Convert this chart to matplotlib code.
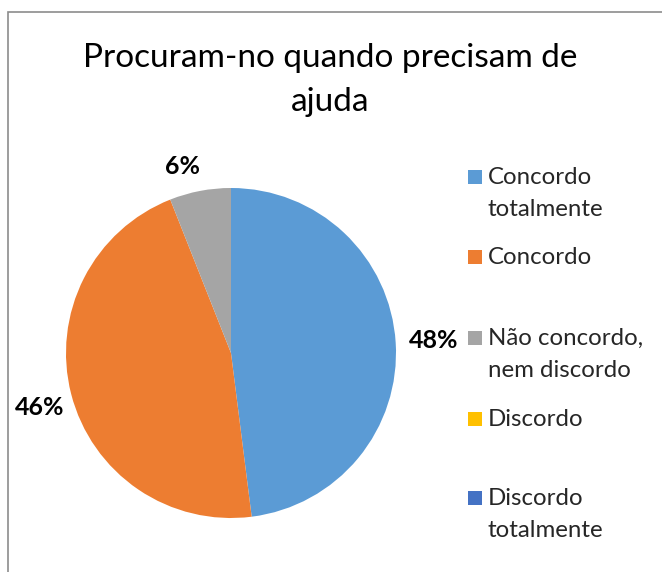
#!/usr/bin/env python3
# -*- coding:utf-8 -*-

import numpy as np
import matplotlib as mpl
mpl.use('Agg')
import matplotlib.pyplot as plt
from matplotlib.patches import Rectangle


title = 'Procuram-no quando precisam de\najuda'
categories = ['Concordo\ntotalmente', 'Concordo', 'Não concordo,\nnem discordo',
              'Discordo', 'Discordo\ntotalmente']
values = [48, 46, 6, 0, 0]
colors = ['#5B9BD5', '#ED7D31', '#A5A5A5', '#FFC000', '#4472C4']

W, H = 662, 572
plt.rcParams['font.family'] = ['Lato', 'DejaVu Sans']


def fmt_pct(p):
    return '{:.0f}%'.format(p) if p > 0.5 else ''


fig = plt.figure(figsize=(W / 100, H / 100), dpi=100)

# chart frame (only top and left edges visible in the crop)
fig.patches.append(Rectangle((8 / W, -0.1), 1.2, 1 - 12 / H + 0.1,
                             transform=fig.transFigure, fill=False,
                             edgecolor='#8c8c8c', linewidth=1.2))

cx, cy, r = 231, 353, 165
ax = fig.add_axes([(cx - r) / W, 1 - (cy + r) / H, 2 * r / W, 2 * r / H])
wedges, _, autotexts = ax.pie(values, colors=colors, startangle=90,
                              counterclock=False, autopct=fmt_pct,
                              pctdistance=1.23,
                              textprops=dict(fontsize=18, fontweight='bold',
                                             color='#000000'))
# Excel "best fit" labels: small slice closer, 46% slightly nearer too
w = wedges[2]
mid = np.deg2rad((w.theta1 + w.theta2) / 2)
autotexts[2].set_position((1.15 * np.cos(mid) - 0.08, 1.15 * np.sin(mid)))
w = wedges[1]
mid = np.deg2rad((w.theta1 + w.theta2) / 2)
autotexts[1].set_position((1.2 * np.cos(mid), 1.2 * np.sin(mid) - 0.03))
ax.set_xlim(-1, 1)
ax.set_ylim(-1, 1)

fig.text(330 / W, 1 - 80 / H, title, ha='center', va='center',
         fontsize=24, linespacing=1.56, color='#000000')

# legend, Excel style: marker aligned to first text line
leg_y = [177, 256.5, 337.5, 419, 498]
for lab, col, y in zip(categories, colors, leg_y):
    fig.patches.append(Rectangle((468 / W, 1 - (y + 7) / H), 14 / W, 14 / H,
                                 transform=fig.transFigure, facecolor=col,
                                 edgecolor='none'))
    fig.text(488 / W, 1 - (y - 10) / H, lab, ha='left', va='top',
             fontsize=17.3, linespacing=1.65, color='#262626')

plt.savefig('out.png', dpi=100)
